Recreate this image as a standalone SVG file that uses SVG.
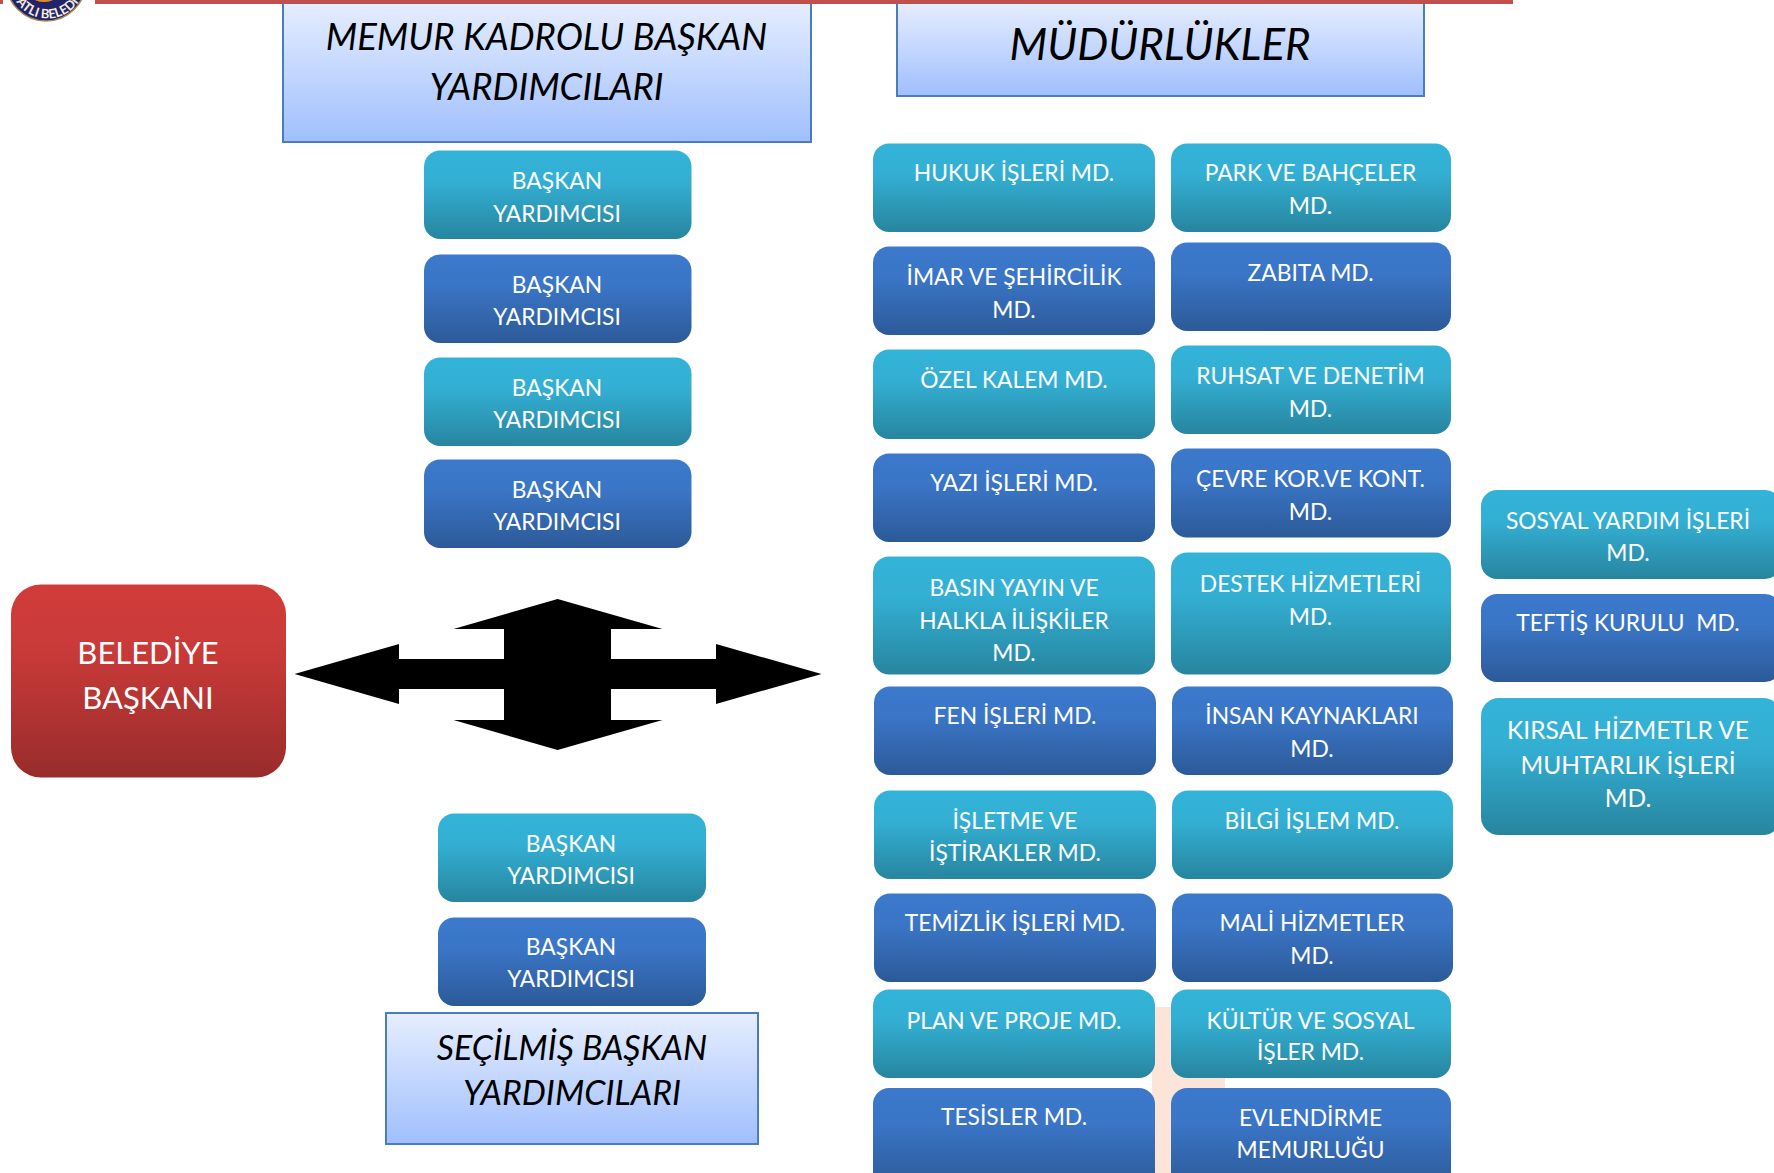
<svg xmlns="http://www.w3.org/2000/svg" width="1774" height="1173" viewBox="0 0 1774 1173">
<style>
text{font-family:"Lato","Open Sans","Liberation Sans",sans-serif;text-anchor:middle}
.t{fill:#fff;font-size:22.8px}
.k{fill:#fff;font-size:24.5px}
.b{fill:#fff;font-size:31px}
.h{fill:#000;font-style:italic;font-size:36.5px}
.s{fill:#000;font-style:italic;font-size:34px}
.teal{fill:url(#gt)}.blue{fill:url(#gb)}.red{fill:url(#gr)}
.hd{fill:url(#gh);stroke:#4a7ebb;stroke-width:2}
</style>
<defs>
<linearGradient id="gt" x1="0" y1="0" x2="0" y2="1"><stop offset="0" stop-color="#33b3d8"/><stop offset=".35" stop-color="#33afd3"/><stop offset="1" stop-color="#27859f"/></linearGradient>
<linearGradient id="gb" x1="0" y1="0" x2="0" y2="1"><stop offset="0" stop-color="#3c79cc"/><stop offset=".35" stop-color="#3a75c6"/><stop offset="1" stop-color="#2c5a98"/></linearGradient>
<linearGradient id="gr" x1="0" y1="0" x2="0" y2="1"><stop offset="0" stop-color="#d13c3a"/><stop offset=".35" stop-color="#c83a38"/><stop offset="1" stop-color="#982c2b"/></linearGradient>
<linearGradient id="gh" x1="0" y1="0" x2="0" y2="1"><stop offset="0" stop-color="#e6eeff"/><stop offset="1" stop-color="#a0bffd"/></linearGradient>
<path id="arc" d="M10 -19 A37.500 37.500 0 0 0 85 -19"/>
</defs>
<rect width="1774" height="1173" fill="#fff"/>
<rect x="0" y="0" width="3" height="4" fill="#c0504d"/>
<g id="logo"><circle cx="46" cy="-19" r="40" fill="#23236b" stroke="#a08a50" stroke-width="1.500"/><circle cx="44" cy="-19" r="21" fill="#e08a20"/><text font-size="13" font-weight="700" style="fill:#f2ecd8"><textPath href="#arc" startOffset="50%">ATLI BELEDİ</textPath></text></g>
<rect x="1152" y="1007" width="73" height="166" fill="#fde4d8"/>
<g id="connectors"><polygon points="294.500,674 399,644 399,659 504,659 504,629 453.500,629 557.600,599 662.500,629 611,629 611,659 716,659 716,644 821.500,674 716,704 716,689 611,689 611,720 662.500,720 557.600,750 453.500,720 504,720 504,689 399,689 399,704" fill="#000"/></g>
<g id="h1"><rect class="hd" x="283" y="2" width="528" height="140"/><text class="h" x="546.500" y="50">MEMUR KADROLU BAŞKAN</text><text class="h" x="546.500" y="100">YARDIMCILARI</text></g>
<g id="h2"><rect class="hd" x="897" y="2" width="527" height="94"/><text class="h" x="1160" y="60" style="font-size:43.800px">MÜDÜRLÜKLER</text></g>
<g id="h3"><rect class="hd" x="386" y="1013" width="372" height="131"/><text class="s" x="572" y="1060">SEÇİLMİŞ BAŞKAN</text><text class="s" x="572" y="1105">YARDIMCILARI</text></g>
<rect x="95" y="0" width="1418" height="4" fill="#c0504d"/>
<g id="belediye"><rect class="red" x="11" y="584.500" width="275" height="193" rx="30"/><text class="b" x="148" y="664">BELEDİYE</text><text class="b" x="148" y="709">BAŞKANI</text></g>
<g id="by1"><rect class="teal" x="424" y="150.500" width="267.500" height="88.500" rx="16"/><text class="t" x="557" y="189">BAŞKAN</text><text class="t" x="557" y="222">YARDIMCISI</text></g>
<g id="by2"><rect class="blue" x="424" y="254.500" width="267.500" height="88.500" rx="16"/><text class="t" x="557" y="293">BAŞKAN</text><text class="t" x="557" y="325">YARDIMCISI</text></g>
<g id="by3"><rect class="teal" x="424" y="357.500" width="267.500" height="88.500" rx="16"/><text class="t" x="557" y="396">BAŞKAN</text><text class="t" x="557" y="428">YARDIMCISI</text></g>
<g id="by4"><rect class="blue" x="424" y="459.500" width="267.500" height="88.500" rx="16"/><text class="t" x="557" y="498">BAŞKAN</text><text class="t" x="557" y="530">YARDIMCISI</text></g>
<g id="by5"><rect class="teal" x="438" y="813.500" width="268" height="88.500" rx="16"/><text class="t" x="571" y="852">BAŞKAN</text><text class="t" x="571" y="884">YARDIMCISI</text></g>
<g id="by6"><rect class="blue" x="438" y="917.500" width="268" height="88.500" rx="16"/><text class="t" x="571" y="955">BAŞKAN</text><text class="t" x="571" y="987">YARDIMCISI</text></g>
<g id="m1"><rect class="teal" x="873" y="143.500" width="282" height="88.500" rx="16"/><text class="t" x="1014" y="181">HUKUK İŞLERİ MD.</text></g>
<g id="m2"><rect class="blue" x="873" y="246.500" width="282" height="88.500" rx="16"/><text class="t" x="1014" y="285">İMAR VE ŞEHİRCİLİK</text><text class="t" x="1014" y="318">MD.</text></g>
<g id="m3"><rect class="teal" x="873" y="349.500" width="282" height="89.500" rx="16"/><text class="t" x="1014" y="388">ÖZEL KALEM MD.</text></g>
<g id="m4"><rect class="blue" x="873" y="453.500" width="282" height="88.500" rx="16"/><text class="t" x="1014" y="491">YAZI İŞLERİ MD.</text></g>
<g id="m5"><rect class="teal" x="873" y="556.500" width="282" height="118" rx="16"/><text class="t" x="1014" y="596">BASIN YAYIN VE</text><text class="t" x="1014" y="629">HALKLA İLİŞKİLER</text><text class="t" x="1014" y="661">MD.</text></g>
<g id="m6"><rect class="blue" x="874" y="686.500" width="282" height="88.500" rx="16"/><text class="t" x="1015" y="724">FEN İŞLERİ MD.</text></g>
<g id="m7"><rect class="teal" x="874" y="790.500" width="282" height="88.500" rx="16"/><text class="t" x="1015" y="829">İŞLETME VE</text><text class="t" x="1015" y="861">İŞTİRAKLER MD.</text></g>
<g id="m8"><rect class="blue" x="874" y="893.500" width="282" height="88.500" rx="16"/><text class="t" x="1015" y="931">TEMİZLİK İŞLERİ MD.</text></g>
<g id="m9"><rect class="teal" x="873" y="989.500" width="282" height="88.500" rx="16"/><text class="t" x="1014" y="1029">PLAN VE PROJE MD.</text></g>
<g id="m10"><rect class="blue" x="873" y="1088" width="282" height="100" rx="16"/><text class="t" x="1014" y="1125">TESİSLER MD.</text></g>
<g id="n1"><rect class="teal" x="1171" y="143.500" width="280" height="88.500" rx="16"/><text class="t" x="1310.500" y="181">PARK VE BAHÇELER</text><text class="t" x="1310.500" y="214">MD.</text></g>
<g id="n2"><rect class="blue" x="1171" y="242.500" width="280" height="88.500" rx="16"/><text class="t" x="1310.500" y="281">ZABITA MD.</text></g>
<g id="n3"><rect class="teal" x="1171" y="345.500" width="280" height="88.500" rx="16"/><text class="t" x="1310.500" y="384">RUHSAT VE DENETİM</text><text class="t" x="1310.500" y="417">MD.</text></g>
<g id="n4"><rect class="blue" x="1171" y="448.500" width="280" height="89" rx="16"/><text class="t" x="1310.500" y="487">ÇEVRE KOR.VE KONT.</text><text class="t" x="1310.500" y="520">MD.</text></g>
<g id="n5"><rect class="teal" x="1171" y="552.500" width="280" height="122" rx="16"/><text class="t" x="1310.500" y="592">DESTEK HİZMETLERİ</text><text class="t" x="1310.500" y="625">MD.</text></g>
<g id="n6"><rect class="blue" x="1172" y="686.500" width="281" height="88.500" rx="16"/><text class="t" x="1312" y="724">İNSAN KAYNAKLARI</text><text class="t" x="1312" y="757">MD.</text></g>
<g id="n7"><rect class="teal" x="1172" y="790.500" width="281" height="88.500" rx="16"/><text class="t" x="1312" y="829">BİLGİ İŞLEM MD.</text></g>
<g id="n8"><rect class="blue" x="1172" y="893.500" width="281" height="88.500" rx="16"/><text class="t" x="1312" y="931">MALİ HİZMETLER</text><text class="t" x="1312" y="964">MD.</text></g>
<g id="n9"><rect class="teal" x="1171" y="989.500" width="280" height="88.500" rx="16"/><text class="t" x="1310.500" y="1029">KÜLTÜR VE SOSYAL</text><text class="t" x="1310.500" y="1060">İŞLER MD.</text></g>
<g id="n10"><rect class="blue" x="1171" y="1088" width="280" height="100" rx="16"/><text class="t" x="1310.500" y="1126">EVLENDİRME</text><text class="t" x="1310.500" y="1158">MEMURLUĞU</text></g>
<g id="o1"><rect class="teal" x="1481" y="490" width="300" height="89" rx="16"/><text class="t" x="1628" y="529">SOSYAL YARDIM İŞLERİ</text><text class="t" x="1628" y="561">MD.</text></g>
<g id="o2"><rect class="blue" x="1481" y="594" width="300" height="88" rx="16"/><text class="t" x="1628" y="631" style="white-space:pre">TEFTİŞ KURULU  MD.</text></g>
<g id="o3"><rect class="teal" x="1481" y="698" width="300" height="137" rx="18"/><text class="k" x="1628" y="739">KIRSAL HİZMETLR VE</text><text class="k" x="1628" y="774">MUHTARLIK İŞLERİ</text><text class="k" x="1628" y="807">MD.</text></g>
</svg>
